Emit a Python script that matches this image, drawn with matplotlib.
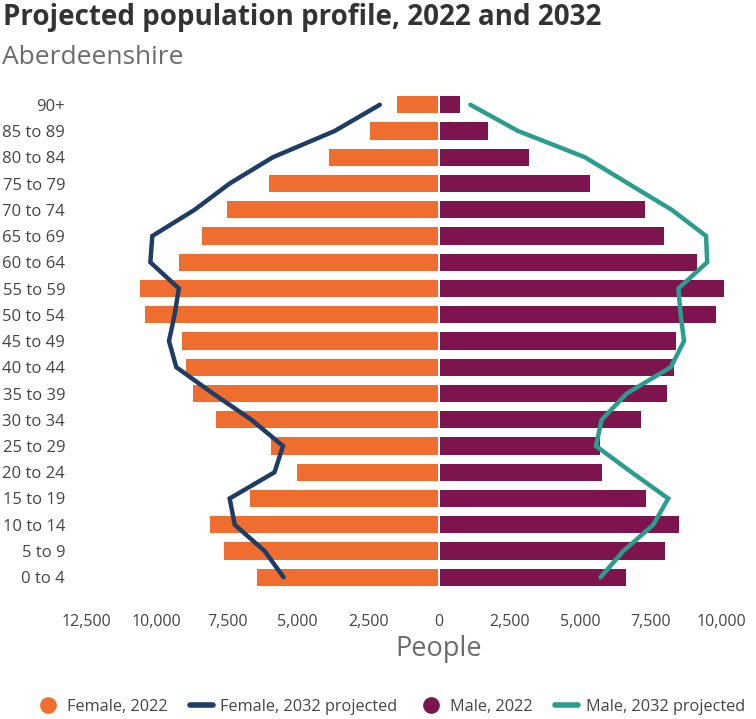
import numpy as np
import matplotlib
matplotlib.use("Agg")
import matplotlib.pyplot as plt
from matplotlib.lines import Line2D

plt.rcParams["font.family"] = ["Open Sans", "DejaVu Sans"]

# age bands, bottom to top
ages = ["0 to 4", "5 to 9", "10 to 14", "15 to 19", "20 to 24", "25 to 29", "30 to 34",
        "35 to 39", "40 to 44", "45 to 49", "50 to 54", "55 to 59", "60 to 64", "65 to 69",
        "70 to 74", "75 to 79", "80 to 84", "85 to 89", "90+"]
female_2022 = [6420, 7580, 8060, 6670, 5010, 5930, 7870, 8690, 8940, 9080,
               10380, 10570, 9170, 8360, 7480, 5990, 3870, 2420, 1440]
female_2032 = [5500, 6170, 7230, 7410, 5820, 5520, 6640, 8000, 9300, 9560,
               9360, 9210, 10220, 10150, 8650, 7410, 5880, 3690, 2090]
male_2022 = [6600, 8000, 8490, 7330, 5770, 5670, 7130, 8050, 8290, 8390,
             9790, 10080, 9110, 7960, 7270, 5340, 3180, 1710, 710]
male_2032 = [5730, 6540, 7600, 8130, 6830, 5570, 5770, 6660, 8220, 8690,
             8570, 8490, 9510, 9470, 8250, 6710, 5180, 2810, 1120]
xticks = [-12500, -10000, -7500, -5000, -2500, 0, 2500, 5000, 7500, 10000]

C_F, C_M = "#EF6D2F", "#7E144D"
C_F32, C_M32 = "#1E3D64", "#2A9D8F"
TXT = "#444444"

W, H = 756, 719
fig = plt.figure(figsize=(W / 100, H / 100), dpi=100)
ax = fig.add_axes([86 / W, (H - 593) / H, (W - 86) / W, (593 - 89) / H])

y = np.arange(len(ages))
ax.barh(y, -np.array(female_2022), height=0.66, color=C_F, left=-30)
ax.barh(y, male_2022, height=0.66, color=C_M, left=30)
ax.plot(-np.array(female_2032), y, color=C_F32, lw=3.2, solid_capstyle="round", solid_joinstyle="miter")
ax.plot(male_2032, y, color=C_M32, lw=3.2, solid_capstyle="round", solid_joinstyle="miter")

xmin, xmax = -12500, 11240
ax.set_xlim(xmin, xmax)
ax.set_ylim(-0.6, 18.6)
ax.set_yticks(y)
ax.set_yticklabels(ages)
ax.set_xticks(xticks)
ax.set_xticklabels([f"{abs(v):,}" for v in xticks])
ax.tick_params(axis="y", length=0, pad=15, labelsize=12, labelcolor=TXT)
ax.tick_params(axis="x", length=0, pad=15, labelsize=11.5, labelcolor=TXT)
for s in ax.spines.values():
    s.set_visible(False)
ax.set_xlabel("People", fontsize=19.5, color="#6b6b6b", labelpad=4)
ax.xaxis.label.set_x((0 - xmin) / (xmax - xmin))

fig.text(3 / W, 1 - 17 / H, "Projected population profile, 2022 and 2032",
         fontsize=20, fontweight="bold", color="#333333", va="center", ha="left")
fig.text(2 / W, 1 - 57 / H, "Aberdeenshire", fontsize=19, color="#6b6b6b",
         va="center", ha="left")

handles = [
    Line2D([], [], marker="o", ls="none", color=C_F, markersize=11),
    Line2D([], [], color=C_F32, lw=4, solid_capstyle="round"),
    Line2D([], [], marker="o", ls="none", color=C_M, markersize=11),
    Line2D([], [], color=C_M32, lw=4, solid_capstyle="round"),
]
labels = ["Female, 2022", "Female, 2032 projected", "Male, 2022", "Male, 2032 projected"]
fig.legend(handles, labels, loc="center left", bbox_to_anchor=(22 / W, 1 - 707 / H),
           ncol=4, frameon=False, fontsize=11.7, handlelength=1.4, handletextpad=0.45,
           columnspacing=1.4, labelcolor=TXT)

fig.savefig("out.png", dpi=100)
